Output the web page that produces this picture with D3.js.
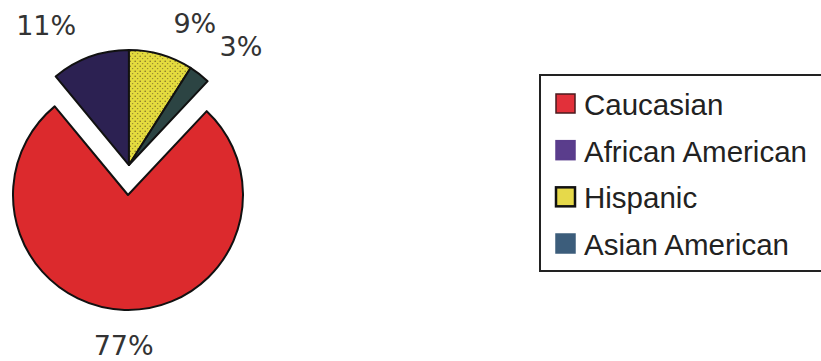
<!DOCTYPE html>
<html>
<head>
<meta charset="utf-8">
<script src="https://cdn.jsdelivr.net/npm/d3@7"></script>
<style>
  html, body { margin: 0; padding: 0; background: #ffffff; }
  svg { display: block; }
</style>
</head>
<body>
<svg id="chart" width="821" height="361"></svg>
<script>
// Ethnic composition, percent of total
const categories = ["Caucasian", "African American", "Hispanic", "Asian American"];
const values = [77, 11, 9, 3];
const valueLabels = ["77%", "11%", "9%", "3%"];

const sliceColors = ["#dc2a2d", "#2c2152", "#e4dc3e", "#2c4443"];
const swatchColors = ["#e2303a", "#5a3d8c", "#e6d94a", "#3c5d7b"];
const swatchBorders = ["#4a1a1e", "#5a3d8c", "#111111", "#3c5d7b"];

const svg = d3.select("#chart");

const cx = 128, cy = 195, radius = 115, explode = 30;

// Dotted fill for the Hispanic slice
const defs = svg.append("defs");
const dots = defs.append("pattern")
  .attr("id", "dots").attr("patternUnits", "userSpaceOnUse")
  .attr("width", 5).attr("height", 5);
dots.append("rect").attr("width", 5).attr("height", 5).attr("fill", sliceColors[2]);
dots.append("circle").attr("cx", 1.2).attr("cy", 1.2).attr("r", 0.7).attr("fill", "#6b5a20");
dots.append("circle").attr("cx", 3.7).attr("cy", 3.6).attr("r", 0.6).attr("fill", "#7a6a28");

// Rotate so the African American / Hispanic boundary points straight up
const total = d3.sum(values);
const start = (values[2] + values[3]) / total * Math.PI * 2;

const pie = d3.pie().sort(null).value(d => d)
  .startAngle(start).endAngle(start + Math.PI * 2);
const arcs = pie(values);

// The three smaller slices are pulled out together along their shared midpoint
const groupMid = (arcs[1].startAngle + arcs[3].endAngle) / 2;
const offX = Math.sin(groupMid) * explode;
const offY = -Math.cos(groupMid) * explode;

const arcGen = d3.arc().innerRadius(0).outerRadius(radius);

const g = svg.append("g").attr("transform", `translate(${cx},${cy})`);

g.selectAll("path.slice")
  .data(arcs)
  .join("path")
  .attr("class", "slice")
  .attr("transform", (d, i) => i === 0 ? null : `translate(${offX},${offY})`)
  .attr("d", arcGen)
  .attr("fill", (d, i) => i === 2 ? "url(#dots)" : sliceColors[i])
  .attr("stroke", "#111")
  .attr("stroke-width", 2)
  .attr("stroke-linejoin", "round");

// Percentage labels outside each slice
const labelR = 138;
g.selectAll("text.pct")
  .data(arcs)
  .join("text")
  .attr("class", "pct")
  .each(function(d, i) {
    const a = (d.startAngle + d.endAngle) / 2;
    const s = Math.sin(a), c = Math.cos(a);
    const ox = i === 0 ? 0 : offX, oy = i === 0 ? 0 : offY;
    let x = ox + s * labelR, y = oy - c * labelR;
    let anchor = "middle";
    if (s > 0.2) { anchor = "start"; x += 6; }
    else if (s < -0.2) { anchor = "end"; x -= 6; }
    if (c < 0) y += 22;
    d3.select(this).attr("x", x).attr("y", y).attr("text-anchor", anchor);
  })
  .attr("font-family", "'DejaVu Sans', Verdana, sans-serif")
  .attr("font-size", 27)
  .attr("fill", "#333")
  .text((d, i) => valueLabels[i]);

// Legend
const lx = 540, ly = 75, lh = 196;
const legend = svg.append("g");
legend.append("rect")
  .attr("x", lx).attr("y", ly)
  .attr("width", 300).attr("height", lh)
  .attr("fill", "#fff")
  .attr("stroke", "#222").attr("stroke-width", 2);

const rowY = d3.scalePoint().domain(categories).range([115, 255]);

const rows = legend.selectAll("g.row")
  .data(categories)
  .join("g").attr("class", "row");

rows.append("rect")
  .attr("x", 556)
  .attr("y", d => rowY(d) - 21)
  .attr("width", 19).attr("height", 19)
  .attr("fill", (d, i) => swatchColors[i])
  .attr("stroke", (d, i) => swatchBorders[i])
  .attr("stroke-width", (d, i) => i === 2 ? 2.5 : 1.5);

rows.append("text")
  .attr("x", 584)
  .attr("y", d => rowY(d))
  .attr("font-family", "'Liberation Sans', Arial, sans-serif")
  .attr("font-size", 29.5)
  .attr("fill", "#222")
  .text(d => d);
</script>
</body>
</html>
